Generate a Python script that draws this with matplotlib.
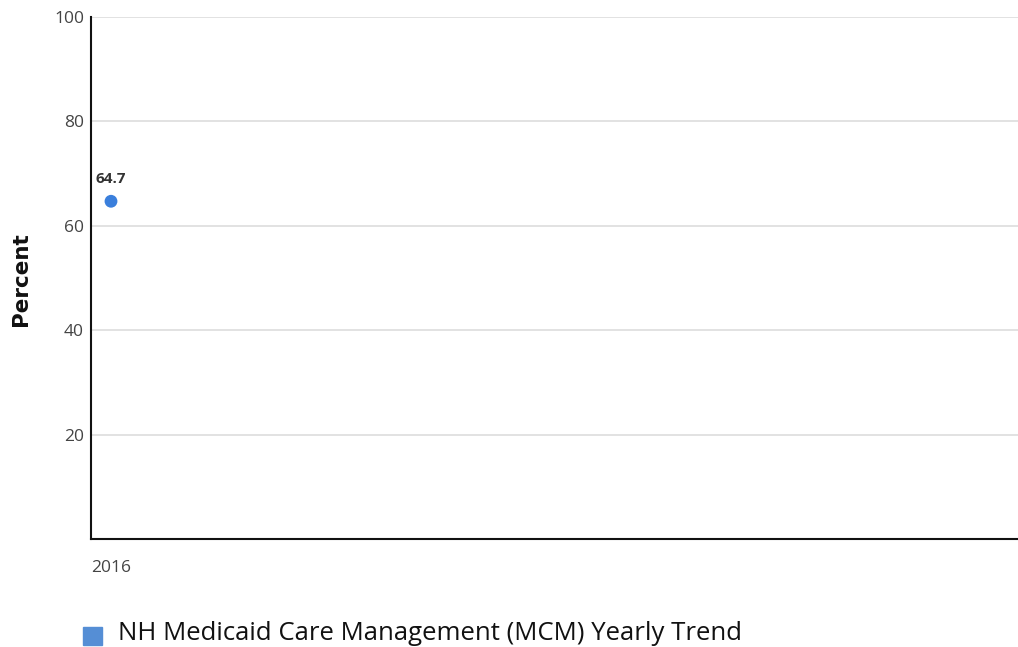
import matplotlib.pyplot as plt
from matplotlib.patches import Rectangle

years = [2016]
values = [64.7]
y_ticks = [20, 40, 60, 80, 100]
series_name = "NH Medicaid Care Management (MCM) Yearly Trend"

plt.rcParams['font.family'] = ['Open Sans', 'DejaVu Sans']

fig = plt.figure(figsize=(10.18, 6.47), dpi=100)
ax = fig.add_axes([91/1018, 108/647, 927/1018, 522/647])

ax.scatter(years, values, s=85, color='#3a7fdc', zorder=3, edgecolors='none')
for x, v in zip(years, values):
    ax.annotate(f"{v}", (x, v), xytext=(0, 11), textcoords='offset points',
                ha='center', va='bottom', fontsize=11, fontweight='bold',
                color='#333333', family=['Liberation Sans Narrow', 'Open Sans'])

ax.set_ylim(0, 100)
ax.set_xlim(2015.8, 2025.07)
ax.set_yticks(y_ticks)
ax.set_xticks(years)
ax.set_xticklabels([str(y) for y in years])
ax.tick_params(axis='both', length=0, labelsize=12.5, colors='#444444')
ax.tick_params(axis='x', pad=15)
ax.tick_params(axis='y', pad=5)
ax.grid(axis='y', color='#dddddd', linewidth=1.2)
ax.set_axisbelow(True)
for s in ['top', 'right']:
    ax.spines[s].set_visible(False)
for s in ['left', 'bottom']:
    ax.spines[s].set_color('#111111')
    ax.spines[s].set_linewidth(1.5)

fig.text(21/1018, 1 - 279/647, "Percent", rotation=90, ha='center', va='center',
         fontsize=15.5, fontweight='bold', color='#111111', family='DejaVu Sans')

# legend
fig.patches.append(Rectangle((83/1018, 1 - 645/647), 19/1018, 18/647,
                             transform=fig.transFigure, color='#558ed5'))
fig.text(118/1018, 1 - 633/647, series_name, ha='left', va='center',
         fontsize=18.5, color='#111111')

fig.savefig('out.png', dpi=100)
